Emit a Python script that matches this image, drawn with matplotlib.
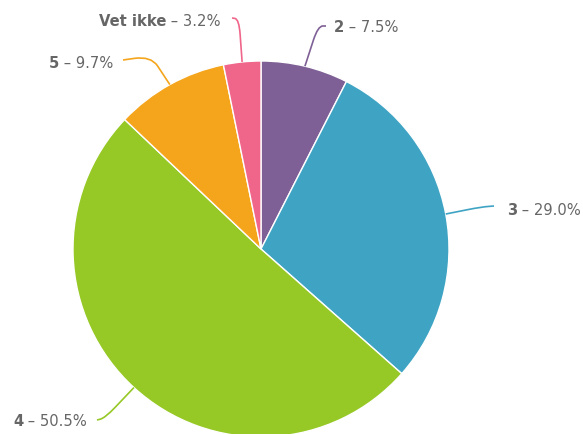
import numpy as np
import matplotlib
matplotlib.use('Agg')
import matplotlib.pyplot as plt
from matplotlib.path import Path
from matplotlib.patches import PathPatch

# Svarfordeling
navn = ['2', '3', '4', '5', 'Vet ikke']
andel = [7.5, 29.0, 50.5, 9.7, 3.2]
farger = ['#7f6096', '#3fa4c4', '#96c826', '#f5a51c', '#f0658a']

W, H = 583, 435
fig = plt.figure(figsize=(W / 100, H / 100), dpi=100)
ax = fig.add_axes([0, 0, 1, 1])

cx, cy, r = 261, H - 250, 188
wedges, _ = ax.pie(andel, colors=farger, startangle=90, counterclock=False,
                   center=(cx, cy), radius=r, frame=True,
                   wedgeprops=dict(edgecolor='white', linewidth=1))
ax.set_xlim(0, W)
ax.set_ylim(0, H)
ax.set_aspect('equal')
ax.axis('off')

# Knekkpunkt og tekstplass for hver etikett (piksler fra topp)
knekk = [(318, 27), (481, 208), (105, 419), (151, 57), (239, 20)]
slutt = [(326, 27), (494, 207), (97, 421), (123, 61), (232, 19)]
tekst = [(334, 28), (507, 211), (87, 422), (113, 63), (221, 21)]

grå = '#666666'
fs = 10.6
font = 'DejaVu Sans'
for w, n, p, k, s, t in zip(wedges, navn, andel, knekk, slutt, tekst):
    mid = np.deg2rad((w.theta1 + w.theta2) / 2)
    p0 = (cx + r * np.cos(mid), cy + r * np.sin(mid))
    k = (k[0], H - k[1])
    s = (s[0], H - s[1])
    # rett linje inn mot knekken, så en myk bue ut mot teksten
    a = (k[0] + 0.35 * (p0[0] - k[0]), k[1] + 0.35 * (p0[1] - k[1]))
    b = (k[0] + 0.6 * (s[0] - k[0]), k[1] + 0.6 * (s[1] - k[1]))
    sti = Path([p0, a, k, b, s],
               [Path.MOVETO, Path.LINETO, Path.CURVE3, Path.CURVE3, Path.LINETO])
    ax.add_patch(PathPatch(sti, facecolor='none', edgecolor=w.get_facecolor(), lw=1.2))

    verdi = f' – {p:.1f}%'
    tx, ty = t[0], H - t[1]
    if tx > cx:
        t1 = ax.text(tx, ty, n, fontsize=fs, fontweight='bold', color=grå,
                     family=font, ha='left', va='center')
        ax.annotate(verdi, xy=(1, 0.5), xycoords=t1, fontsize=fs, color=grå,
                    family=font, ha='left', va='center')
    else:
        t2 = ax.text(tx, ty, verdi, fontsize=fs, color=grå,
                     family=font, ha='right', va='center')
        ax.annotate(n, xy=(0, 0.5), xycoords=t2, fontsize=fs, fontweight='bold',
                    color=grå, family=font, ha='right', va='center')

fig.savefig('out.png', dpi=100)
